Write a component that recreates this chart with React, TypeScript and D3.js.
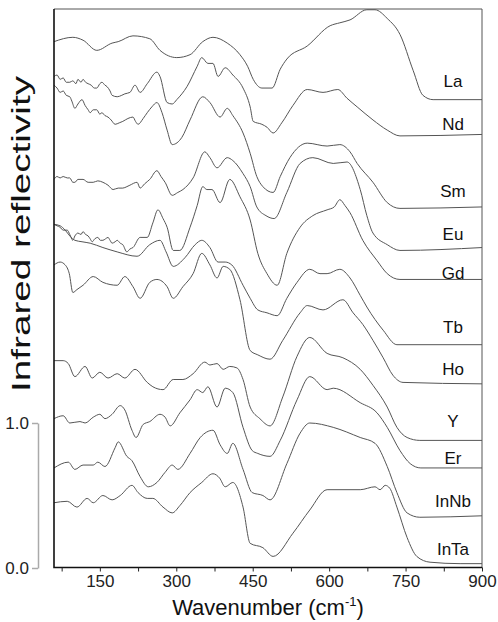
import React, { useEffect, useRef } from 'react';
import * as d3 from 'd3';

// spectra, wavenumber (cm-1) vs stacked reflectivity
const La: [number, number][] = [[60,3.63],[97,3.66],[117,3.64],[144,3.57],[174,3.62],[186,3.63],[215,3.67],[248,3.65],[268,3.57],[301,3.52],[327,3.54],[352,3.63],[372,3.66],[400,3.62],[425,3.54],[440,3.46],[451,3.37],[468,3.31],[488,3.31],[504,3.44],[517,3.51],[557,3.60],[602,3.74],[621,3.76],[641,3.78],[674,3.85],[690,3.85],[714,3.79],[739,3.68],[765,3.43],[784,3.26],[804,3.23],[900,3.23]];
const Nd: [number, number][] = [[60,3.39],[66,3.40],[72,3.37],[78,3.38],[84,3.35],[91,3.35],[97,3.36],[103,3.34],[107,3.37],[113,3.35],[117,3.37],[122,3.35],[127,3.34],[133,3.33],[139,3.31],[144,3.31],[150,3.34],[154,3.35],[160,3.33],[164,3.32],[170,3.29],[174,3.26],[184,3.25],[193,3.26],[199,3.27],[209,3.28],[219,3.33],[229,3.28],[243,3.34],[262,3.42],[268,3.39],[282,3.21],[292,3.20],[301,3.23],[321,3.32],[341,3.46],[350,3.52],[362,3.48],[372,3.48],[382,3.39],[396,3.45],[411,3.40],[431,3.31],[445,3.18],[451,3.08],[468,3.06],[478,3.04],[490,3.00],[507,3.07],[529,3.19],[557,3.30],[588,3.28],[617,3.30],[635,3.24],[655,3.18],[686,3.09],[714,3.02],[739,2.98],[900,2.99]];
const Sm: [number, number][] = [[60,3.33],[66,3.31],[72,3.28],[78,3.29],[84,3.26],[91,3.25],[95,3.22],[101,3.17],[107,3.20],[115,3.23],[121,3.19],[127,3.16],[131,3.14],[137,3.16],[144,3.16],[150,3.13],[154,3.14],[160,3.12],[166,3.11],[172,3.09],[180,3.06],[188,3.07],[195,3.08],[205,3.10],[215,3.11],[220,3.08],[225,3.06],[235,3.10],[243,3.14],[252,3.18],[262,3.21],[272,3.14],[282,3.02],[292,2.92],[311,2.97],[327,3.09],[352,3.25],[366,3.21],[386,3.11],[400,3.17],[411,3.12],[431,3.00],[445,2.86],[458,2.70],[470,2.63],[490,2.59],[504,2.70],[523,2.83],[557,2.93],[596,2.91],[621,2.92],[641,2.87],[655,2.79],[686,2.66],[714,2.52],[739,2.48],[900,2.49]];
const Eu: [number, number][] = [[60,2.68],[66,2.70],[72,2.69],[78,2.70],[86,2.69],[91,2.69],[97,2.66],[101,2.66],[107,2.68],[117,2.68],[127,2.66],[137,2.66],[146,2.67],[156,2.66],[166,2.64],[176,2.61],[186,2.62],[195,2.62],[203,2.63],[209,2.64],[223,2.66],[229,2.62],[238,2.65],[248,2.68],[262,2.74],[270,2.70],[278,2.66],[292,2.57],[303,2.59],[313,2.61],[333,2.69],[356,2.87],[366,2.83],[380,2.76],[400,2.83],[411,2.81],[431,2.72],[445,2.63],[458,2.49],[476,2.43],[492,2.41],[517,2.59],[543,2.79],[568,2.83],[608,2.79],[635,2.80],[661,2.61],[674,2.43],[686,2.31],[714,2.23],[739,2.19],[900,2.21]];
const Gd: [number, number][] = [[60,2.37],[66,2.36],[72,2.35],[78,2.33],[86,2.33],[91,2.30],[97,2.26],[101,2.29],[107,2.31],[113,2.30],[117,2.32],[122,2.30],[127,2.29],[131,2.27],[135,2.25],[140,2.27],[146,2.28],[151,2.26],[156,2.26],[161,2.27],[166,2.28],[170,2.26],[174,2.24],[180,2.25],[184,2.26],[190,2.24],[195,2.23],[203,2.18],[209,2.20],[215,2.21],[229,2.28],[243,2.28],[254,2.38],[264,2.47],[274,2.41],[282,2.35],[294,2.19],[307,2.19],[327,2.35],[341,2.50],[352,2.63],[360,2.61],[370,2.61],[386,2.52],[405,2.68],[425,2.56],[445,2.40],[460,2.17],[478,2.03],[498,1.95],[517,2.17],[543,2.35],[568,2.43],[596,2.47],[610,2.49],[621,2.54],[631,2.50],[641,2.45],[666,2.26],[694,2.12],[714,2.03],[739,1.99],[900,1.99]];
const Tb: [number, number][] = [[60,2.37],[72,2.36],[82,2.33],[91,2.29],[101,2.26],[115,2.25],[131,2.24],[156,2.21],[184,2.18],[223,2.15],[248,2.23],[268,2.26],[280,2.18],[294,2.08],[317,2.14],[337,2.23],[350,2.26],[366,2.21],[382,2.11],[396,2.11],[409,2.09],[431,1.95],[445,1.86],[460,1.78],[478,1.76],[498,1.74],[517,1.86],[537,1.97],[562,2.06],[582,2.03],[596,2.03],[621,2.06],[641,2.00],[661,1.88],[674,1.80],[706,1.64],[733,1.54],[900,1.54]];
const Ho: [number, number][] = [[60,2.09],[72,2.11],[82,2.09],[90,2.03],[97,1.90],[105,1.92],[117,1.95],[137,2.01],[156,1.97],[184,1.95],[199,2.01],[215,1.94],[229,1.86],[248,1.97],[262,1.99],[282,1.94],[294,1.86],[313,1.94],[333,2.03],[350,2.17],[366,2.09],[380,2.00],[392,2.08],[405,2.06],[425,1.85],[445,1.50],[460,1.47],[484,1.44],[509,1.57],[543,1.76],[557,1.81],[588,1.78],[627,1.85],[647,1.76],[666,1.68],[686,1.57],[706,1.45],[725,1.33],[745,1.28],[900,1.27]];
const Yt: [number, number][] = [[60,1.43],[78,1.43],[88,1.41],[101,1.32],[121,1.39],[135,1.31],[150,1.35],[166,1.31],[184,1.34],[199,1.31],[219,1.37],[243,1.28],[254,1.25],[274,1.23],[294,1.30],[313,1.30],[333,1.34],[356,1.42],[366,1.40],[380,1.41],[392,1.37],[405,1.39],[419,1.38],[431,1.30],[445,1.11],[464,1.03],[484,0.98],[509,1.18],[537,1.46],[562,1.59],[596,1.48],[627,1.45],[661,1.37],[686,1.26],[714,1.11],[733,0.97],[753,0.90],[778,0.88],[900,0.88]];
const Er: [number, number][] = [[60,1.03],[78,1.05],[91,1.00],[111,1.01],[121,1.00],[137,1.04],[150,1.06],[160,1.03],[174,1.06],[190,1.12],[199,1.09],[213,0.95],[221,0.90],[235,0.99],[248,1.01],[268,1.06],[278,1.04],[288,0.98],[307,1.07],[327,1.16],[341,1.23],[352,1.21],[362,1.25],[380,1.11],[396,1.24],[411,1.21],[431,0.97],[449,0.81],[460,0.79],[484,0.77],[504,0.88],[537,1.16],[562,1.32],[596,1.23],[608,1.24],[661,1.14],[694,1.07],[714,0.97],[739,0.81],[759,0.72],[780,0.69],[900,0.69]];
const InNb: [number, number][] = [[60,0.69],[88,0.73],[101,0.68],[117,0.71],[137,0.71],[146,0.73],[160,0.70],[180,0.83],[186,0.87],[203,0.77],[213,0.74],[229,0.63],[245,0.56],[262,0.59],[278,0.66],[292,0.71],[303,0.68],[327,0.79],[347,0.90],[372,0.95],[386,0.85],[400,0.79],[411,0.86],[431,0.68],[449,0.52],[470,0.50],[484,0.47],[517,0.72],[543,0.93],[562,1.00],[608,0.97],[661,0.90],[690,0.86],[714,0.70],[733,0.52],[753,0.38],[778,0.35],[900,0.36]];
const InTa: [number, number][] = [[60,0.45],[86,0.46],[105,0.42],[125,0.48],[137,0.45],[156,0.50],[174,0.47],[190,0.50],[213,0.57],[225,0.52],[243,0.48],[254,0.48],[274,0.42],[292,0.38],[307,0.43],[327,0.52],[350,0.59],[372,0.65],[385,0.62],[396,0.56],[411,0.59],[431,0.42],[445,0.17],[470,0.14],[490,0.08],[529,0.24],[562,0.40],[596,0.54],[661,0.54],[690,0.56],[700,0.54],[710,0.57],[719,0.55],[733,0.42],[753,0.21],[772,0.08],[798,0.04],[857,0.03],[900,0.03]];

const names = ['La', 'Nd', 'Sm', 'Eu', 'Gd', 'Tb', 'Ho', 'Y', 'Er', 'InNb', 'InTa'];
const spectra = [La, Nd, Sm, Eu, Gd, Tb, Ho, Yt, Er, InNb, InTa];
// label baselines, in reflectivity units
const labelLevels = [3.32, 3.02, 2.56, 2.26, 1.99, 1.62, 1.33, 0.97, 0.72, 0.42, 0.09];

const xTicks = [75, 150, 225, 300, 375, 450, 525, 600, 675, 750, 825, 900];
const xLabeled = [150, 300, 450, 600, 750, 900];
const yTicks = [0, 1];

const W = 498;
const H = 622;
const font = "'Liberation Sans', Arial, sans-serif";

export default function App() {
  const svgRef = useRef<SVGSVGElement>(null);

  useEffect(() => {
    const svg = d3.select(svgRef.current);
    svg.selectAll('*').remove();

    const left = 54, right = 482, top = 9, bottom = 568;
    const x = d3.scaleLinear().domain([60, 900]).range([left, right]);
    const y = d3.scaleLinear().domain([0, (bottom - top) / 145]).range([bottom, top]);

    // curves
    const line = d3.line<[number, number]>()
      .x(d => x(d[0]))
      .y(d => y(d[1]))
      .curve(d3.curveMonotoneX);

    svg.append('g')
      .selectAll('path')
      .data(spectra)
      .join('path')
      .attr('d', d => line(d))
      .attr('fill', 'none')
      .attr('stroke', '#555')
      .attr('stroke-width', 1);

    // frame
    svg.append('path')
      .attr('d', `M${left},${top}H${right}V${bottom}`)
      .attr('fill', 'none')
      .attr('stroke', '#555')
      .attr('stroke-width', 1);
    svg.append('path')
      .attr('d', `M${left},${top}V${bottom - 0.5}H${right}`)
      .attr('fill', 'none')
      .attr('stroke', '#111')
      .attr('stroke-width', 1.6);

    // x axis
    const xAxis = svg.append('g')
      .attr('transform', `translate(0,${bottom - 0.5})`)
      .call(
        d3.axisBottom(x)
          .tickValues(xTicks)
          .tickSize(4)
          .tickFormat(d => (xLabeled.includes(+d) ? String(d) : ''))
      );
    xAxis.select('.domain').remove();
    xAxis.selectAll('line').attr('stroke', '#222');
    xAxis.selectAll('text')
      .attr('font-family', font)
      .attr('font-size', 17)
      .attr('fill', '#222');

    // separate reflectivity scale
    const yr = d3.scaleLinear().domain([0, 1]).range([bottom, bottom - 145]);
    const yAxis = svg.append('g')
      .attr('transform', 'translate(38,0)')
      .call(
        d3.axisLeft(yr)
          .tickValues(yTicks)
          .tickFormat(d3.format('.1f'))
          .tickSize(6)
          .tickSizeOuter(0)
          .tickPadding(3)
      );
    yAxis.select('.domain').attr('stroke', '#aaa').attr('stroke-width', 1.5);
    yAxis.selectAll('line').attr('stroke', '#aaa').attr('stroke-width', 1.5);
    yAxis.selectAll('text')
      .attr('font-family', font)
      .attr('font-size', 17)
      .attr('fill', '#222');

    // compound labels
    svg.append('g')
      .selectAll('text')
      .data(names)
      .join('text')
      .attr('x', 453)
      .attr('y', (_, i) => y(labelLevels[i]))
      .attr('text-anchor', 'middle')
      .attr('font-family', font)
      .attr('font-size', 17)
      .attr('fill', '#111')
      .text(d => d);

    // axis titles
    const xt = svg.append('text')
      .attr('x', 268)
      .attr('y', 615)
      .attr('text-anchor', 'middle')
      .attr('font-family', font)
      .attr('font-size', 22)
      .attr('fill', '#111');
    xt.append('tspan').text('Wavenumber (cm');
    xt.append('tspan').attr('dy', -9).attr('font-size', 13).text('-1');
    xt.append('tspan').attr('dy', 9).text(')');

    svg.append('text')
      .attr('transform', 'translate(30,234) rotate(-90)')
      .attr('text-anchor', 'middle')
      .attr('font-family', font)
      .attr('font-size', 25)
      .attr('textLength', 316)
      .attr('lengthAdjust', 'spacingAndGlyphs')
      .attr('fill', '#111')
      .text('Infrared reflectivity');
  }, []);

  return (
    <svg
      ref={svgRef}
      width={W}
      height={H}
      style={{ position: 'absolute', left: 0, top: 0, background: '#fff' }}
    />
  );
}
